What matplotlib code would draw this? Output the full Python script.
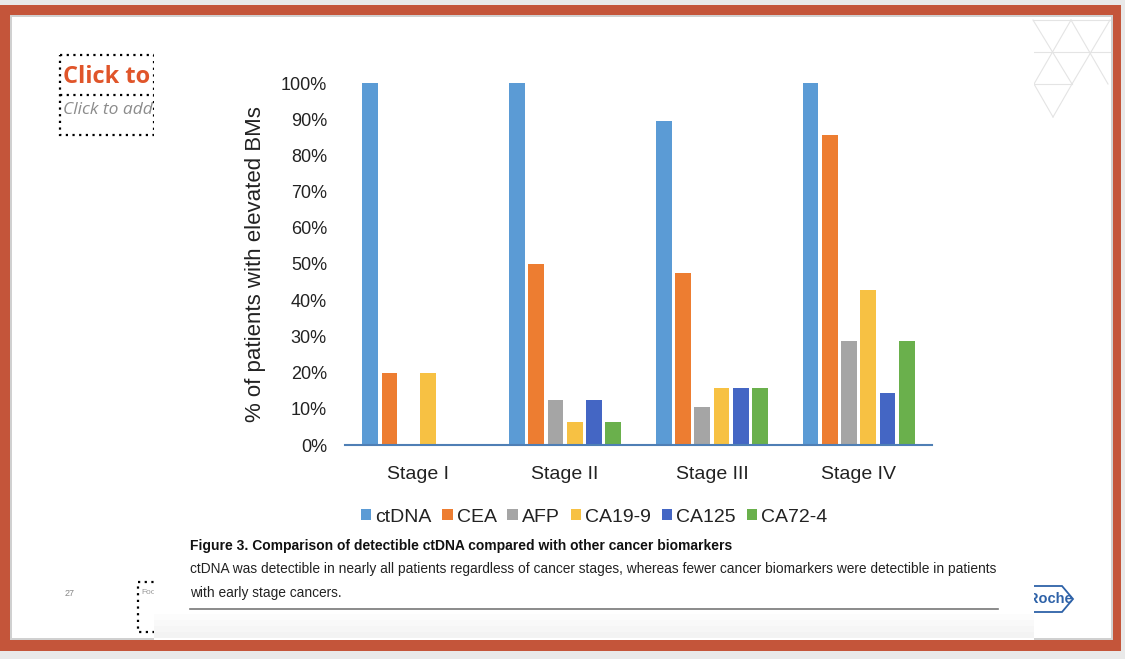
import matplotlib.pyplot as plt
from matplotlib.patches import Rectangle, Polygon
from matplotlib.lines import Line2D

# data
stages = ["Stage I", "Stage II", "Stage III", "Stage IV"]
markers = ["ctDNA", "CEA", "AFP", "CA19-9", "CA125", "CA72-4"]
ctdna = [1.00, 1.00, 0.895, 1.00]
cea = [0.20, 0.50, 0.474, 0.857]
afp = [0.0, 0.125, 0.105, 0.286]
ca199 = [0.20, 0.0625, 0.158, 0.429]
ca125 = [0.0, 0.125, 0.158, 0.143]
ca724 = [0.0, 0.0625, 0.158, 0.286]
yticks = [0, 0.1, 0.2, 0.3, 0.4, 0.5, 0.6, 0.7, 0.8, 0.9, 1.0]
colors = ["#5B9BD5", "#ED7D31", "#A5A5A5", "#F7C143", "#4466C4", "#6AB04C"]

W, H = 1125, 659
plt.rcParams['font.family'] = ['Liberation Sans', 'DejaVu Sans']


def fx(x):
    return x / W


def fy(y):
    return 1 - y / H


fig = plt.figure(figsize=(W / 100, H / 100), dpi=100)
fig.patch.set_facecolor("#E9E9E9")

bg = fig.add_axes([0, 0, 1, 1])
bg.set_xlim(0, W)
bg.set_ylim(H, 0)
bg.axis("off")

# slide frame
bg.add_patch(Rectangle((0, 5), 1121, 646, facecolor="#C4553A", edgecolor="none", zorder=0))
bg.add_patch(Rectangle((10, 15), 1103, 625, facecolor="#D0D0D0", edgecolor="none", zorder=0))
bg.add_patch(Rectangle((12, 17), 1099, 621, facecolor="white", edgecolor="none", zorder=0))

# triangle pattern top right
tri = "#E4E4E4"
pts = {"A": (1033, 20), "B": (1071, 20), "C": (1110, 20), "D": (1053, 52), "E": (1090, 52),
       "F": (1034, 84), "G": (1072, 84), "H": (1108, 84), "I": (1053, 117)}
for a, b in ["AC", "AG", "BF", "BH", "CG", "FG", "FI", "GI"]:
    bg.add_line(Line2D([pts[a][0], pts[b][0]], [pts[a][1], pts[b][1]], color=tri, lw=0.8))
bg.add_line(Line2D([1033, 1110], [52, 52], color=tri, lw=0.8))

# title placeholder (partly hidden behind the pasted figure)
bg.add_patch(Rectangle((60, 55), 94, 80, facecolor="none", edgecolor="black",
                       lw=1.6, linestyle=(0, (1, 2)), zorder=2))
bg.add_line(Line2D([60, 154], [95, 95], color="black", lw=1.6, linestyle=(0, (1, 2)), zorder=2))
bg.text(63, 77, "Click to add title", color="#E0552A", fontsize=17, fontweight="bold",
        va="center", family=["Open Sans", "DejaVu Sans"], zorder=3)
bg.text(63, 110, "Click to add text", color="#8C8C8C", fontsize=12.5, style="italic",
        va="center", family=["Open Sans", "DejaVu Sans"], zorder=3)

# footer placeholder and page number
bg.add_patch(Rectangle((138, 582), 20, 50, facecolor="none", edgecolor="black",
                       lw=1.6, linestyle=(0, (1, 2)), zorder=2))
bg.text(141, 593, "Footer", color="#999999", fontsize=6, va="center", zorder=3)
bg.text(70, 593, "27", color="#888888", fontsize=6.5, ha="center", va="center")

# Roche logo (left part hidden behind the pasted figure)
bg.add_patch(Polygon([(1010, 586), (1062, 586), (1073, 599), (1062, 612), (1010, 612)],
                     closed=True, facecolor="white", edgecolor="#2E62A8", lw=1.3, zorder=2))
bg.text(1050, 599, "Roche", color="#2E62A8", fontsize=10.5, fontweight="bold",
        ha="center", va="center", zorder=3)

# pasted figure image
bg.add_patch(Rectangle((154, 40), 880, 600, facecolor="white", edgecolor="none", zorder=5))
for k, c in enumerate(["#FCFCFC", "#F9F9F9", "#F6F6F6", "#F3F3F3"]):
    bg.add_patch(Rectangle((154, 614 + 6 * k), 880, 6, facecolor=c, edgecolor="none", zorder=5))

# chart
ax = fig.add_axes([fx(345), fy(445), fx(932) - fx(345), fy(83) - fy(445)])
series = [ctdna, cea, afp, ca199, ca125, ca724]
step = 0.131
width = 0.108
for i, (name, vals) in enumerate(zip(markers, series)):
    xs = [k + (i - 2.5) * step for k in range(len(stages))]
    ax.bar(xs, vals, width=width, color=colors[i], label=name)

ax.set_xlim(-0.5, 3.5)
ax.set_ylim(0, 1.0)
ax.set_yticks(yticks)
ax.set_yticklabels(["%d%%" % round(v * 100) for v in yticks], fontsize=13)
ax.set_xticks(range(len(stages)))
ax.set_xticklabels(stages, fontsize=14)
ax.tick_params(axis="both", length=0, colors="#222222")
ax.tick_params(axis="x", pad=15)
ax.tick_params(axis="y", pad=13)
for s in ["top", "right", "left"]:
    ax.spines[s].set_visible(False)
ax.spines["bottom"].set_color("#4F7FB5")
ax.spines["bottom"].set_linewidth(1.5)
ax.set_ylabel("% of patients with elevated BMs", fontsize=16, color="#222222")
ax.yaxis.set_label_coords(fx(266), fy(264), transform=fig.transFigure)
ax.patch.set_alpha(0)

ax.legend(loc="center", bbox_to_anchor=(fx(594), fy(517)), bbox_transform=fig.transFigure,
          ncol=6, frameon=False, fontsize=14, handlelength=0.55, handleheight=0.55,
          handletextpad=0.2, columnspacing=0.55, labelcolor="#222222")

# caption
bg.text(190, 546, "Figure 3. Comparison of detectible ctDNA compared with other cancer biomarkers",
        fontsize=10, fontweight="bold", va="center", color="#111111", zorder=6)
bg.text(190, 569, "ctDNA was detectible in nearly all patients regardless of cancer stages, whereas fewer "
        "cancer biomarkers were detectible in patients", fontsize=9.95, va="center", color="#222222",
        zorder=6)
bg.text(190, 593, "with early stage cancers.", fontsize=9.95, va="center", color="#222222", zorder=6)
bg.add_line(Line2D([190, 998], [609, 609], color="#777777", lw=1.2, zorder=6))

fig.savefig("out.png", dpi=100)
